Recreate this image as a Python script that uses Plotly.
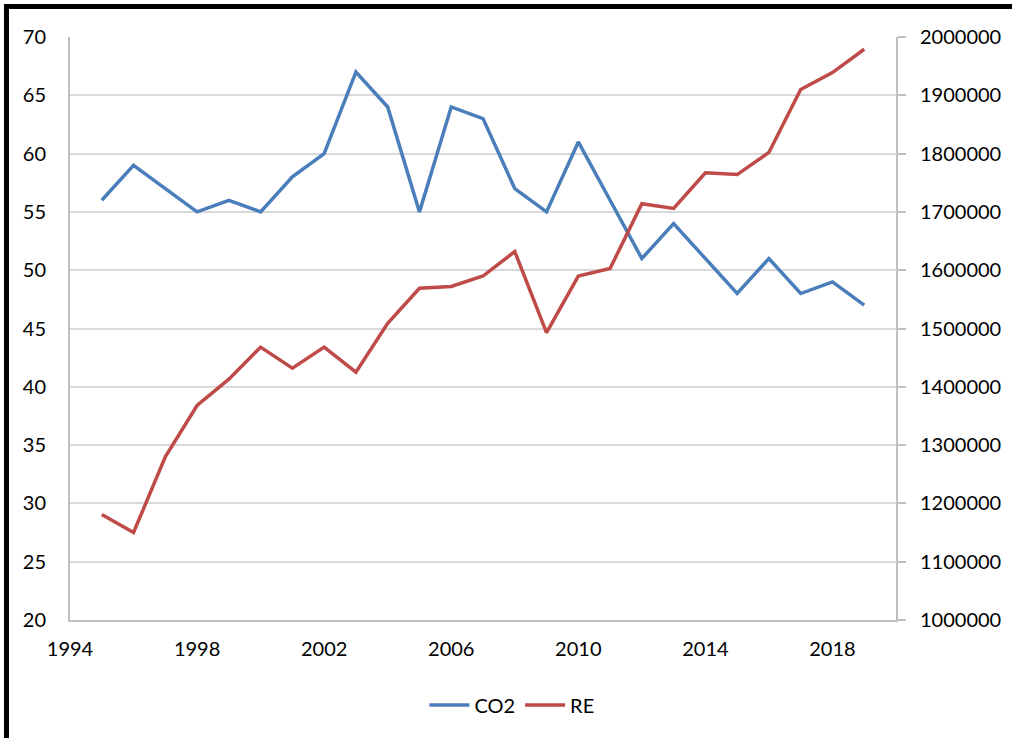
import plotly.graph_objects as go

years = list(range(1995, 2020))
co2 = [56, 59, 57, 55, 56, 55, 58, 60, 67, 64, 55, 64, 63, 57, 55,
       61, 56, 51, 54, 51, 48, 51, 48, 49, 47]
re = [1181000, 1150000, 1280000, 1368000, 1413000, 1468000, 1432000,
      1468000, 1425000, 1509000, 1569000, 1572000, 1590000, 1632000,
      1493000, 1590000, 1603000, 1714000, 1706000, 1767000, 1764000,
      1802000, 1910000, 1939000, 1979000]

BLUE = "#4a7ebb"
RED = "#be4b48"
GRID = "#d9d9d9"
AXIS = "#bfbfbf"
FONT = "Lato, Liberation Sans, Arial, sans-serif"

fig = go.Figure()
fig.add_trace(go.Scatter(x=years, y=co2, name="CO2", mode="lines",
                         line=dict(color=BLUE, width=3.5)))
fig.add_trace(go.Scatter(x=years, y=re, name="RE", mode="lines", yaxis="y2",
                         line=dict(color=RED, width=3.5)))

fig.update_layout(
    width=1012, height=738,
    margin=dict(l=70, r=116, t=37, b=118),
    paper_bgcolor="white", plot_bgcolor="white",
    font=dict(family=FONT, size=20, color="#000000"),
    showlegend=True,
    legend=dict(orientation="h", x=0.535, xanchor="center", y=-0.146, yanchor="middle",
                font=dict(size=20), itemwidth=40),
    xaxis=dict(range=[1994, 2020], tick0=1994, dtick=4, showgrid=False,
               showline=True, linecolor=AXIS, linewidth=2, ticks="",
               ticklabelstandoff=10, zeroline=False),
    yaxis=dict(range=[20, 70], dtick=5, showgrid=True, gridcolor=GRID, gridwidth=2,
               showline=True, linecolor=AXIS, linewidth=2, ticks="",
               ticklabelstandoff=18, zeroline=False),
    yaxis2=dict(range=[1000000, 2000000], dtick=100000, tickformat="d",
                overlaying="y", side="right", showgrid=False,
                showline=True, linecolor=AXIS, linewidth=2,
                ticks="outside", ticklen=8, tickcolor=AXIS, tickwidth=2,
                ticklabelstandoff=10, zeroline=False),
    # thick black frame, only its left and top edges fall inside the picture
    shapes=[dict(type="rect", xref="paper", yref="paper",
                 x0=-0.0769, x1=1.2, y0=-0.4, y1=1.0523,
                 line=dict(color="black", width=5), layer="above")],
)

# drop the default 8px body margin so the figure sits at the page corner
fig.write_html("out.html", config={"displayModeBar": False},
               post_script="document.body.style.margin='0';")
